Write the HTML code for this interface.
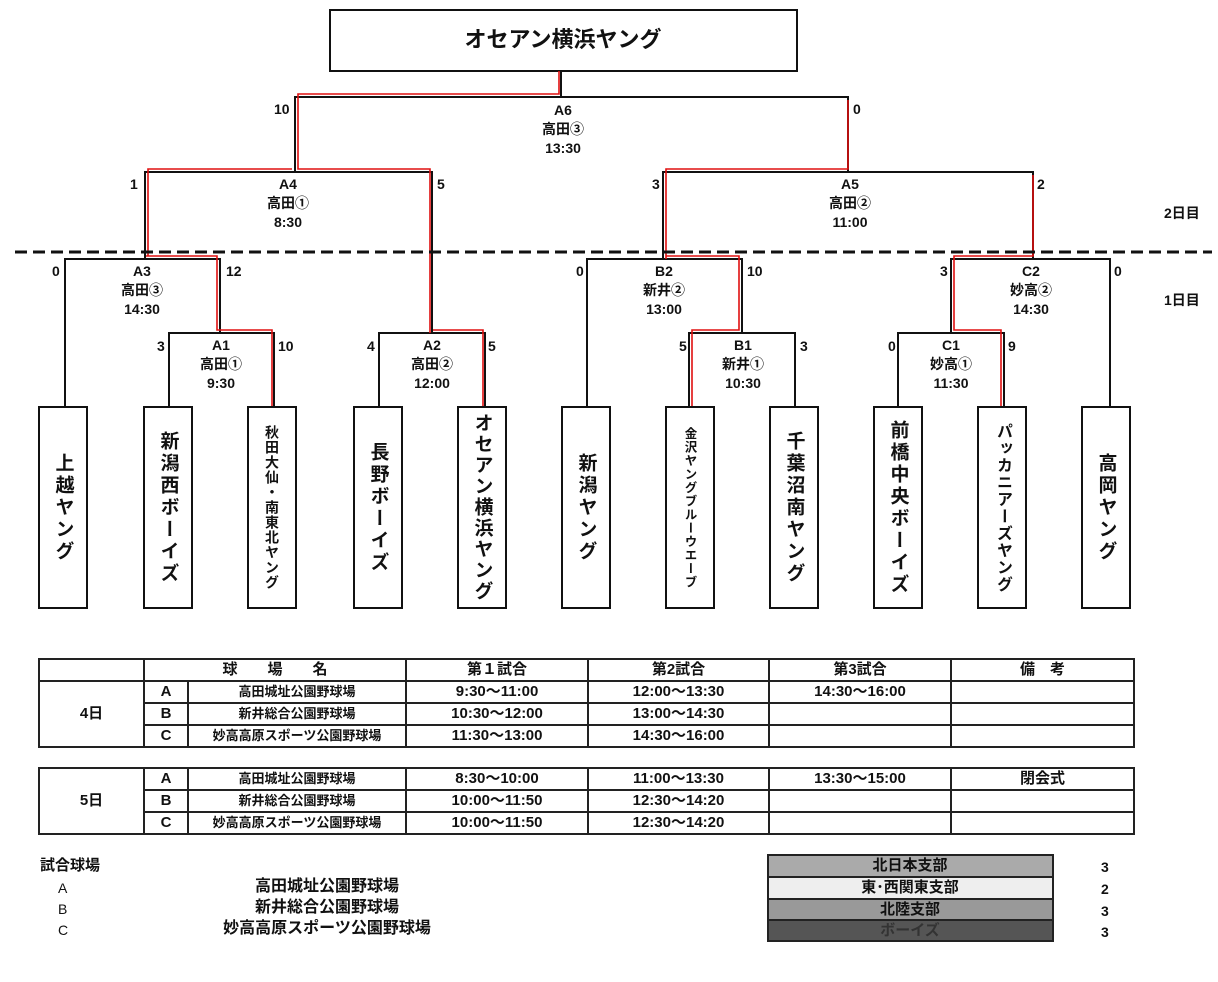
<!DOCTYPE html>
<html><head><meta charset="utf-8"><style>
body{margin:0;background:#fff;}
#c{position:relative;width:1218px;height:982px;overflow:hidden;font-family:"Liberation Sans","Noto Sans CJK JP",sans-serif;font-weight:bold;color:#111;}
.t{position:absolute;transform:translate(-50%,0);text-align:center;font-size:14px;line-height:19px;white-space:nowrap;}
.s{position:absolute;font-size:14px;line-height:16px;}
.leaf{position:absolute;top:406px;width:50px;height:203px;border:2px solid #111;box-sizing:border-box;display:flex;align-items:center;justify-content:center;}
.leaf span{writing-mode:vertical-rl;font-size:19px;letter-spacing:3px;}
.leaf span.sm{font-size:12.5px;letter-spacing:1px;}
table{position:absolute;border-collapse:collapse;font-size:15px;table-layout:fixed;}
td{border:2px solid #222;height:20px;line-height:20px;padding:0;text-align:center;font-weight:bold;white-space:nowrap;overflow:hidden;}
</style></head><body><div id="c">
<svg width="1218" height="982" style="position:absolute;left:0;top:0">
<rect x="330" y="10" width="467" height="61" fill="#fff" stroke="#111" stroke-width="2"/>
<g stroke="#111" stroke-width="2" fill="none">
<line x1="561" y1="71" x2="561" y2="97"/>
<polyline points="295,172 295,97 848,97 848,172"/>
<polyline points="145,259 145,172 432,172 432,333"/>
<polyline points="663,259 663,172 1033,172 1033,259"/>
<polyline points="65,406 65,259 220,259 220,333"/>
<polyline points="169,406 169,333 274,333 274,406"/>
<polyline points="379,406 379,333 485,333 485,406"/>
<polyline points="587,406 587,259 742,259 742,333"/>
<polyline points="689,406 689,333 795,333 795,406"/>
<polyline points="951,333 951,259 1110,259 1110,406"/>
<polyline points="898,406 898,333 1004,333 1004,406"/>
</g>
<g stroke="#e01010" stroke-width="1.6" fill="none">
<polyline points="559,71 559,94 298,94 298,169 430,169 430,333"/>
<polyline points="848,100 848,169 666,169 666,259"/>
<polyline points="148,256 148,169 292,169"/>
<polyline points="146,256 217,256 217,330 272,330 272,406"/>
<polyline points="433,330 483,330 483,406"/>
<polyline points="666,256 739,256 739,330 692,330 692,406"/>
<polyline points="1033,175 1033,256 954,256 954,330 1001,330 1001,406"/>
</g>
<line x1="15" y1="252" x2="1212" y2="252" stroke="#111" stroke-width="3" stroke-dasharray="12,6"/>
<g><rect x="768" y="855" width="285" height="22" fill="#aaa"/><rect x="768" y="877" width="285" height="22" fill="#eee"/><rect x="768" y="899" width="285" height="21" fill="#999"/><rect x="768" y="920" width="285" height="21" fill="#555"/></g>
<g stroke="#222" stroke-width="2" fill="none"><rect x="768" y="855" width="285" height="86"/><line x1="768" y1="877" x2="1053" y2="877"/><line x1="768" y1="899" x2="1053" y2="899"/><line x1="768" y1="920" x2="1053" y2="920"/></g>
</svg>
<div class="t" style="left:563px;top:27px;font-size:22px;line-height:26px">オセアン横浜ヤング</div>
<div class="t" style="left:563px;top:101px">A6<br>高田③<br>13:30</div>
<div class="s" style="left:274px;top:101px">10</div><div class="s" style="left:853px;top:101px">0</div>
<div class="t" style="left:288px;top:175px">A4<br>高田①<br>8:30</div>
<div class="s" style="left:130px;top:176px">1</div><div class="s" style="left:437px;top:176px">5</div>
<div class="t" style="left:850px;top:175px">A5<br>高田②<br>11:00</div>
<div class="s" style="left:652px;top:176px">3</div><div class="s" style="left:1037px;top:176px">2</div>
<div class="s" style="left:1164px;top:205px">2日目</div><div class="s" style="left:1164px;top:292px">1日目</div>
<div class="t" style="left:142px;top:262px">A3<br>高田③<br>14:30</div>
<div class="s" style="left:52px;top:263px">0</div><div class="s" style="left:226px;top:263px">12</div>
<div class="t" style="left:221px;top:336px">A1<br>高田①<br>9:30</div>
<div class="s" style="left:157px;top:338px">3</div><div class="s" style="left:278px;top:338px">10</div>
<div class="t" style="left:432px;top:336px">A2<br>高田②<br>12:00</div>
<div class="s" style="left:367px;top:338px">4</div><div class="s" style="left:488px;top:338px">5</div>
<div class="t" style="left:664px;top:262px">B2<br>新井②<br>13:00</div>
<div class="s" style="left:576px;top:263px">0</div><div class="s" style="left:747px;top:263px">10</div>
<div class="t" style="left:743px;top:336px">B1<br>新井①<br>10:30</div>
<div class="s" style="left:679px;top:338px">5</div><div class="s" style="left:800px;top:338px">3</div>
<div class="t" style="left:1031px;top:262px">C2<br>妙高②<br>14:30</div>
<div class="s" style="left:940px;top:263px">3</div><div class="s" style="left:1114px;top:263px">0</div>
<div class="t" style="left:951px;top:336px">C1<br>妙高①<br>11:30</div>
<div class="s" style="left:888px;top:338px">0</div><div class="s" style="left:1008px;top:338px">9</div>
<div class="leaf" style="left:38px"><span>上越ヤング</span></div>
<div class="leaf" style="left:143px"><span>新潟西ボーイズ</span></div>
<div class="leaf" style="left:247px"><span class="sm" style="font-size:14px">秋田大仙・南東北ヤング</span></div>
<div class="leaf" style="left:353px"><span>長野ボーイズ</span></div>
<div class="leaf" style="left:457px"><span style="letter-spacing:2px">オセアン横浜ヤング</span></div>
<div class="leaf" style="left:561px"><span>新潟ヤング</span></div>
<div class="leaf" style="left:665px"><span class="sm">金沢ヤングブルーウエーブ</span></div>
<div class="leaf" style="left:769px"><span>千葉沼南ヤング</span></div>
<div class="leaf" style="left:873px"><span>前橋中央ボーイズ</span></div>
<div class="leaf" style="left:977px"><span style="font-size:16px;letter-spacing:1px">パッカニアーズヤング</span></div>
<div class="leaf" style="left:1081px"><span>高岡ヤング</span></div>
<table style="left:38px;top:658px;width:1095px">
<colgroup><col style="width:105px"><col style="width:44px"><col style="width:218px"><col style="width:182px"><col style="width:181px"><col style="width:182px"><col style="width:183px"></colgroup>
<tr><td></td><td colspan="2">球　　場　　名</td><td>第１試合</td><td>第2試合</td><td>第3試合</td><td>備　考</td></tr>
<tr><td rowspan="3">4日</td><td>A</td><td style="font-size:13px">高田城址公園野球場</td><td>9:30〜11:00</td><td>12:00〜13:30</td><td>14:30〜16:00</td><td></td></tr>
<tr><td>B</td><td style="font-size:13px">新井総合公園野球場</td><td>10:30〜12:00</td><td>13:00〜14:30</td><td></td><td></td></tr>
<tr><td>C</td><td style="font-size:13px">妙高高原スポーツ公園野球場</td><td>11:30〜13:00</td><td>14:30〜16:00</td><td></td><td></td></tr>
</table>
<table style="left:38px;top:767px;width:1095px">
<colgroup><col style="width:105px"><col style="width:44px"><col style="width:218px"><col style="width:182px"><col style="width:181px"><col style="width:182px"><col style="width:183px"></colgroup>
<tr><td rowspan="3">5日</td><td>A</td><td style="font-size:13px">高田城址公園野球場</td><td>8:30〜10:00</td><td>11:00〜13:30</td><td>13:30〜15:00</td><td>閉会式</td></tr>
<tr><td>B</td><td style="font-size:13px">新井総合公園野球場</td><td>10:00〜11:50</td><td>12:30〜14:20</td><td></td><td></td></tr>
<tr><td>C</td><td style="font-size:13px">妙高高原スポーツ公園野球場</td><td>10:00〜11:50</td><td>12:30〜14:20</td><td></td><td></td></tr>
</table>
<div class="s" style="left:40px;top:858px;font-size:15px">試合球場</div>
<div class="s" style="left:58px;top:880px;font-weight:normal">A</div>
<div class="s" style="left:58px;top:901px;font-weight:normal">B</div>
<div class="s" style="left:58px;top:922px;font-weight:normal">C</div>
<div class="t" style="left:327px;top:877px;font-size:16px">高田城址公園野球場</div>
<div class="t" style="left:327px;top:898px;font-size:16px">新井総合公園野球場</div>
<div class="t" style="left:327px;top:919px;font-size:16px">妙高高原スポーツ公園野球場</div>
<div class="t" style="left:910px;top:856px;font-size:15px">北日本支部</div>
<div class="t" style="left:910px;top:878px;font-size:15px">東･西関東支部</div>
<div class="t" style="left:910px;top:900px;font-size:15px">北陸支部</div>
<div class="t" style="left:910px;top:921px;font-size:15px;color:#333">ボーイズ</div>
<div class="s" style="left:1101px;top:859px">3</div>
<div class="s" style="left:1101px;top:881px">2</div>
<div class="s" style="left:1101px;top:903px">3</div>
<div class="s" style="left:1101px;top:924px">3</div>
</div></body></html>
